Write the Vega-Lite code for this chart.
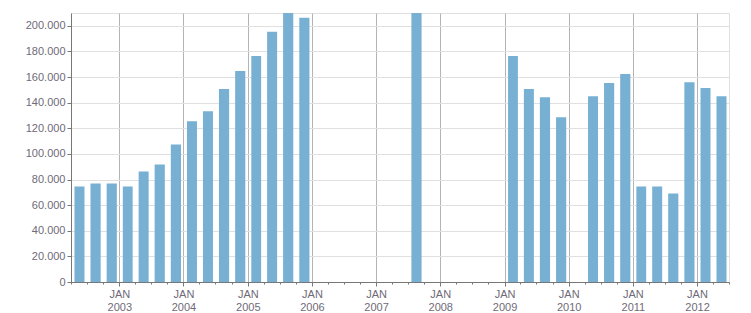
{
  "$schema": "https://vega.github.io/schema/vega-lite/v6.json",
  "width": 658,
  "height": 269,
  "autosize": "none",
  "padding": {"left": 71, "top": 13, "right": 22, "bottom": 31},
  "background": "white",
  "config": {
    "view": {"stroke": "#e0e0e0"},
    "font": "Liberation Sans"
  },
  "data": {
    "values": [
      {"q": "2002-04-01", "v": 74500},
      {"q": "2002-07-01", "v": 76900},
      {"q": "2002-10-01", "v": 76900},
      {"q": "2003-01-01", "v": 74500},
      {"q": "2003-04-01", "v": 86300},
      {"q": "2003-07-01", "v": 91800},
      {"q": "2003-10-01", "v": 107400},
      {"q": "2004-01-01", "v": 125500},
      {"q": "2004-04-01", "v": 133300},
      {"q": "2004-07-01", "v": 150600},
      {"q": "2004-10-01", "v": 164700},
      {"q": "2005-01-01", "v": 176500},
      {"q": "2005-04-01", "v": 195300},
      {"q": "2005-07-01", "v": 214000},
      {"q": "2005-10-01", "v": 206300},
      {"q": "2007-07-01", "v": 220000},
      {"q": "2009-01-01", "v": 176500},
      {"q": "2009-04-01", "v": 150600},
      {"q": "2009-07-01", "v": 144300},
      {"q": "2009-10-01", "v": 128600},
      {"q": "2010-04-01", "v": 145100},
      {"q": "2010-07-01", "v": 155300},
      {"q": "2010-10-01", "v": 162300},
      {"q": "2011-01-01", "v": 74500},
      {"q": "2011-04-01", "v": 74500},
      {"q": "2011-07-01", "v": 69000},
      {"q": "2011-10-01", "v": 156000},
      {"q": "2012-01-01", "v": 151400},
      {"q": "2012-04-01", "v": 145100}
    ]
  },
  "mark": {"type": "bar", "color": "#77b0d3", "clip": true, "binSpacing": 0, "xOffset": -3, "x2Offset": 3},
  "encoding": {
    "x": {
      "field": "q",
      "timeUnit": "utcyearquarter",
      "type": "temporal",
      "title": null,
      "scale": {
        "type": "utc",
        "nice": false,
        "domain": [
          {"year": 2002, "month": 4, "date": 1, "utc": true},
          {"year": 2012, "month": 7, "date": 1, "utc": true}
        ]
      },
      "axis": {
        "tickCount": {"interval": "month", "step": 3},
        "labelExpr": "utcmonth(datum.value) === 0 ? ['JAN', utcFormat(datum.value, '%Y')] : ''",
        "labelFlush": false,
        "labelOverlap": false,
        "labelColor": "#6f6a78",
        "labelFontSize": 11,
        "labelPadding": 2,
        "labelLineHeight": 13,
        "domainColor": "#777777",
        "tickColor": "#777777",
        "tickSize": {"condition": {"test": "utcmonth(datum.value) === 0", "value": 4}, "value": 2},
        "grid": true,
        "gridColor": "#b4b4b4",
        "gridOpacity": {"condition": {"test": "utcmonth(datum.value) === 0", "value": 1}, "value": 0}
      }
    },
    "y": {
      "field": "v",
      "type": "quantitative",
      "title": null,
      "scale": {"domain": [0, 210000], "nice": false},
      "axis": {
        "values": [0, 20000, 40000, 60000, 80000, 100000, 120000, 140000, 160000, 180000, 200000],
        "labelExpr": "replace(format(datum.value, ','), /,/g, '.')",
        "labelColor": "#6f6a78",
        "labelFontSize": 11,
        "labelPadding": 2,
        "domainColor": "#777777",
        "tickColor": "#777777",
        "tickSize": 4,
        "gridColor": "#e0e0e0"
      }
    }
  }
}
